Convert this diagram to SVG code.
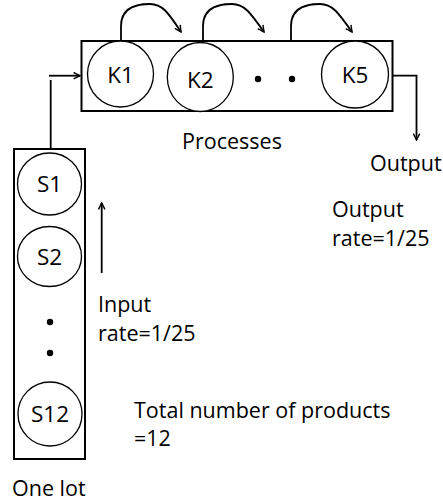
<svg xmlns="http://www.w3.org/2000/svg" width="443" height="504" viewBox="0 0 443 504">
<style>
  .box{fill:none;stroke:#000;stroke-width:2}
  .node{fill:#fff;stroke:#000;stroke-width:1.3}
  .conn{fill:none;stroke:#000;stroke-width:1.8}
  .t{font-family:"Open Sans","Liberation Sans",sans-serif;font-size:21.5px;fill:#000}
  .lbl{font-family:"Open Sans","Liberation Sans",sans-serif;font-size:22.5px;fill:#000;text-anchor:middle}
</style>
<defs>
  <marker id="arr" viewBox="0 0 10 10" refX="9" refY="5" markerWidth="8" markerHeight="8" markerUnits="userSpaceOnUse" orient="auto">
    <path d="M1,1 L9,5 L1,9" fill="none" stroke="#000" stroke-width="1.8"/>
  </marker>
</defs>
<rect width="443" height="504" fill="#fff"/>
<g id="processes">
  <rect class="box" x="81.5" y="41" width="311" height="70"/>
  <text class="t" x="232" y="149" text-anchor="middle">Processes</text>
</g>
<g id="lot">
  <rect class="box" x="14" y="149" width="71" height="310"/>
  <text class="t" x="12" y="496">One lot</text>
</g>
<g id="K1">
  <circle class="node" cx="120.5" cy="74" r="33"/>
  <text class="lbl" x="120.5" y="83">K1</text>
</g>
<g id="K2">
  <ellipse class="node" cx="200.3" cy="77" rx="33" ry="34.5"/>
  <text class="lbl" x="200.3" y="88">K2</text>
</g>
<g id="Kdots">
  <circle cx="258" cy="79" r="3.2"/>
  <circle cx="292" cy="79" r="3.2"/>
</g>
<g id="K5">
  <circle class="node" cx="355" cy="74.5" r="33.5"/>
  <text class="lbl" x="355" y="83">K5</text>
</g>
<g id="S1">
  <ellipse class="node" cx="49.5" cy="184" rx="32" ry="31"/>
  <text class="lbl" x="49.5" y="192">S1</text>
</g>
<g id="S2">
  <ellipse class="node" cx="49.5" cy="256.5" rx="32" ry="30"/>
  <text class="lbl" x="49.5" y="265">S2</text>
</g>
<g id="Sdots">
  <circle cx="50" cy="322" r="3.2"/>
  <circle cx="50" cy="353" r="3.2"/>
</g>
<g id="S12">
  <circle class="node" cx="50" cy="414" r="32"/>
  <text class="lbl" x="50" y="422">S12</text>
</g>
<g id="connectors">
  <path class="conn" d="M121,41 L121,26 C121,6 140,4 150,4 C162,4 168,12 181,32" marker-end="url(#arr)"/>
  <path class="conn" d="M203,41 L203,26 C203,6 222,4 232,4 C244,4 250,12 264,32" marker-end="url(#arr)"/>
  <path class="conn" d="M291,41 L291,26 C291,6 310,4 320,4 C332,4 338,12 352,32" marker-end="url(#arr)"/>
  <path class="conn" d="M50.7,149 L50.7,80"/>
  <path class="conn" d="M49,75.7 L80,75.7" marker-end="url(#arr)"/>
  <path class="conn" d="M392.5,75.7 L416.5,75.7 L416.5,140" marker-end="url(#arr)"/>
  <path class="conn" d="M101.7,273 L101.7,203" marker-end="url(#arr)"/>
</g>
<g id="labels">
  <text class="t" x="370" y="171">Output</text>
  <text class="t" x="332" y="217">Output</text>
  <text class="t" x="332" y="246">rate=1/25</text>
  <text class="t" x="98" y="312">Input</text>
  <text class="t" x="98" y="341">rate=1/25</text>
  <text class="t" x="134" y="418">Total number of products</text>
  <text class="t" x="134" y="446">=12</text>
</g>
</svg>
